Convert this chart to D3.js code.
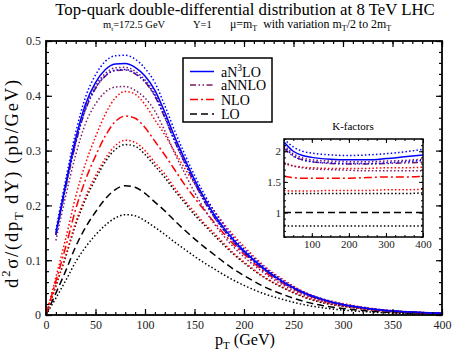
<!DOCTYPE html>
<html><head><meta charset="utf-8">
<script src="https://cdn.jsdelivr.net/npm/d3@7"></script>
<style>body{margin:0;background:#fff} text{font-family:"Liberation Serif","Times New Roman",serif}</style>
</head><body><svg id="c" width="452" height="351"></svg>
<script>
// ---- data ----
const pT = [0,10,20,30,40,50,60,70,80,90,100,110,120,130,140,150,160,170,180,190,200,220,240,260,280,300,325,350,375,400];
const N3LO    = [null,0.150,0.240,0.322,0.385,0.424,0.448,0.458,0.459,0.452,0.436,0.410,0.370,0.325,0.285,0.247,0.213,0.183,0.158,0.136,0.117,0.085,0.060,0.041,0.028,0.019,0.012,0.0075,0.0048,0.003];
const N3LO_up = [null,0.155,0.248,0.333,0.398,0.438,0.463,0.473,0.474,0.467,0.450,0.424,0.382,0.336,0.294,0.255,0.220,0.189,0.163,0.140,0.121,0.088,0.062,0.042,0.029,0.0196,0.0124,0.0077,0.005,0.0031];
const N3LO_lo = [null,0.146,0.234,0.314,0.376,0.414,0.437,0.447,0.448,0.441,0.426,0.400,0.361,0.317,0.278,0.241,0.208,0.179,0.154,0.133,0.114,0.083,0.059,0.040,0.027,0.0185,0.0117,0.0073,0.0047,0.0029];
const NNLO    = [null,0.146,0.234,0.313,0.375,0.413,0.436,0.446,0.447,0.440,0.425,0.399,0.360,0.317,0.278,0.241,0.207,0.178,0.154,0.132,0.114,0.083,0.058,0.040,0.027,0.0185,0.0117,0.0073,0.0047,0.0029];
const NNLO_up = [null,0.148,0.236,0.317,0.379,0.418,0.441,0.451,0.452,0.445,0.429,0.404,0.364,0.320,0.281,0.243,0.210,0.180,0.156,0.134,0.115,0.084,0.059,0.040,0.028,0.0187,0.0118,0.0074,0.0047,0.003];
const NNLO_lo = [null,0.136,0.218,0.292,0.350,0.385,0.407,0.416,0.417,0.410,0.396,0.372,0.336,0.295,0.259,0.224,0.193,0.166,0.143,0.123,0.106,0.077,0.054,0.037,0.025,0.017,0.011,0.0068,0.0044,0.0027];
const NLO     = [0,0.062,0.125,0.193,0.247,0.290,0.327,0.353,0.363,0.359,0.342,0.317,0.292,0.265,0.238,0.214,0.191,0.169,0.148,0.128,0.111,0.080,0.057,0.039,0.026,0.018,0.0115,0.007,0.0046,0.003];
const NLO_up  = [0,0.069,0.140,0.216,0.277,0.325,0.367,0.396,0.408,0.403,0.384,0.356,0.329,0.298,0.268,0.240,0.215,0.190,0.166,0.144,0.125,0.090,0.064,0.043,0.029,0.021,0.013,0.008,0.0052,0.0035];
const NLO_lo  = [0,0.054,0.109,0.169,0.216,0.254,0.286,0.309,0.319,0.315,0.300,0.278,0.257,0.232,0.209,0.188,0.167,0.149,0.130,0.112,0.097,0.070,0.050,0.034,0.023,0.016,0.010,0.006,0.004,0.0027];
const LO      = [0,0.040,0.081,0.125,0.160,0.188,0.212,0.229,0.236,0.233,0.222,0.206,0.190,0.172,0.155,0.139,0.124,0.110,0.096,0.083,0.072,0.052,0.037,0.025,0.017,0.012,0.0075,0.0045,0.003,0.002];
const LO_up   = [0,0.053,0.107,0.165,0.211,0.248,0.280,0.302,0.311,0.308,0.293,0.272,0.251,0.227,0.205,0.183,0.164,0.145,0.127,0.110,0.095,0.069,0.049,0.033,0.022,0.016,0.010,0.006,0.004,0.0026];
const LO_lo   = [0,0.031,0.063,0.097,0.124,0.146,0.164,0.177,0.183,0.181,0.172,0.160,0.147,0.133,0.120,0.107,0.095,0.084,0.073,0.063,0.054,0.039,0.028,0.019,0.013,0.009,0.0057,0.0035,0.0023,0.0015];

// K-factors (inset)
const kPT        = [25,50,75,100,150,200,250,300,350,400];
const K_N3LO     = [2.15,2.00,1.93,1.90,1.87,1.86,1.86,1.88,1.91,1.94];
const K_N3LO_up  = [2.20,2.07,2.00,1.97,1.94,1.93,1.94,1.96,1.99,2.03];
const K_N3LO_lo  = [2.08,1.93,1.86,1.83,1.81,1.80,1.80,1.81,1.83,1.85];
const K_NNLO     = [2.05,1.92,1.86,1.83,1.80,1.79,1.79,1.80,1.81,1.82];
const K_NNLO_up  = [2.10,1.96,1.89,1.86,1.84,1.83,1.83,1.84,1.85,1.87];
const K_NNLO_lo  = [1.82,1.76,1.73,1.71,1.70,1.69,1.68,1.68,1.68,1.68];
const K_NLO      = [1.59,1.57,1.56,1.56,1.56,1.56,1.57,1.58,1.58,1.59];
const K_NLO_up   = [1.80,1.76,1.74,1.73,1.72,1.72,1.72,1.73,1.73,1.74];
const K_NLO_lo   = [1.36,1.35,1.35,1.35,1.36,1.36,1.36,1.37,1.37,1.38];
const K_LO       = [1,1,1,1,1,1,1,1,1,1];
const K_LO_up    = [1.31,1.31,1.31,1.31,1.31,1.31,1.31,1.31,1.31,1.32];
const K_LO_lo    = [0.78,0.78,0.78,0.78,0.78,0.78,0.78,0.78,0.78,0.78];

const xTicks = [0,50,100,150,200,250,300,350,400];
const yTicks = [0,0.1,0.2,0.3,0.4,0.5];
const kxTicks = [100,200,300,400];
const kyTicks = [1,1.5,2];
const legendLabels = ["aN3LO","aNNLO","NLO","LO"];
const titleText = "Top-quark double-differential distribution at 8 TeV LHC";

// ---- styles ----
const FONT = "'Liberation Serif','Times New Roman',serif";
const C = {blue:"#0000ff", purple:"#7a1a66", red:"#ff0000", black:"#000000"};
const D = {solid:null, dot:"1.5,2.2", dash:"7,4", dashdot:"8,3,2,3", dashdotdot:"6,2.5,1.5,2.5,1.5,2.5"};

const svg = d3.select("#c");
const W = {l:46, r:442, t:41, b:315};
const x = d3.scaleLinear().domain([0,400]).range([W.l,W.r]);
const y = d3.scaleLinear().domain([0,0.5]).range([W.b,W.t]);

svg.append("defs").append("clipPath").attr("id","clipMain")
  .append("rect").attr("x",W.l).attr("y",W.t).attr("width",W.r-W.l).attr("height",W.b-W.t);

const mainSeries = [
  {v:LO_lo, c:C.black, d:D.dot}, {v:LO_up, c:C.black, d:D.dot}, {v:LO, c:C.black, d:D.dash},
  {v:NLO_lo, c:C.red, d:D.dot}, {v:NLO_up, c:C.red, d:D.dot}, {v:NLO, c:C.red, d:D.dashdot},
  {v:NNLO_lo, c:C.purple, d:D.dot}, {v:NNLO_up, c:C.purple, d:D.dot}, {v:NNLO, c:C.purple, d:D.dashdotdot},
  {v:N3LO_lo, c:C.blue, d:D.dot}, {v:N3LO_up, c:C.blue, d:D.dot}, {v:N3LO, c:C.blue, d:D.solid}
];
const line = d3.line().defined(d=>d[1]!=null).x(d=>x(d[0])).y(d=>y(d[1])).curve(d3.curveMonotoneX);
const gm = svg.append("g").attr("clip-path","url(#clipMain)");
mainSeries.forEach(s=>{
  gm.append("path").datum(pT.map((p,i)=>[p,s.v[i]])).attr("d",line)
    .attr("fill","none").attr("stroke",s.c).attr("stroke-width",1.5)
    .attr("stroke-dasharray",s.d);
});

// main axes (inward ticks on all sides)
const tickCol = "#222";
function styleAxis(g){ g.attr("font-family",FONT); g.select(".domain").remove(); g.selectAll("line").attr("stroke","#000").attr("stroke-width",1.2);
  g.selectAll("text").attr("fill",tickCol).attr("font-family",FONT).style("font-family",FONT); }
const xMinor = d3.range(0,401,10), yMinor = d3.range(0,0.5001,0.02);
svg.append("g").attr("transform",`translate(0,${W.b})`).call(d3.axisBottom(x).tickValues(xMinor).tickSize(-3).tickFormat("")).call(styleAxis);
svg.append("g").attr("transform",`translate(0,${W.b})`).call(d3.axisBottom(x).tickValues(xTicks).tickSize(-6).tickPadding(5).tickFormat(d3.format("d"))).call(styleAxis).selectAll("text").attr("font-size",12);
svg.append("g").attr("transform",`translate(0,${W.t})`).call(d3.axisTop(x).tickValues(xMinor).tickSize(-3).tickFormat("")).call(styleAxis);
svg.append("g").attr("transform",`translate(0,${W.t})`).call(d3.axisTop(x).tickValues(xTicks).tickSize(-6).tickFormat("")).call(styleAxis);
svg.append("g").attr("transform",`translate(${W.l},0)`).call(d3.axisLeft(y).tickValues(yMinor).tickSize(-3).tickFormat("")).call(styleAxis);
svg.append("g").attr("transform",`translate(${W.l},0)`).call(d3.axisLeft(y).tickValues(yTicks).tickSize(-6).tickPadding(5).tickFormat(d=>d===0?"0":d3.format(".1f")(d))).call(styleAxis).selectAll("text").attr("font-size",12);
svg.append("g").attr("transform",`translate(${W.r},0)`).call(d3.axisRight(y).tickValues(yMinor).tickSize(-3).tickFormat("")).call(styleAxis);
svg.append("g").attr("transform",`translate(${W.r},0)`).call(d3.axisRight(y).tickValues(yTicks).tickSize(-6).tickFormat("")).call(styleAxis);
svg.append("rect").attr("x",W.l).attr("y",W.t).attr("width",W.r-W.l).attr("height",W.b-W.t)
  .attr("fill","none").attr("stroke","#000").attr("stroke-width",1.8);

// ---- rich text helper ----
function rich(parent, parts, size, attrs){
  const t = parent.append("text").attr("font-family",FONT).style("font-family",FONT);
  Object.entries(attrs||{}).forEach(([k,v])=>t.attr(k,v));
  function build(sz){
    t.selectAll("tspan").remove();
    t.attr("font-size",sz);
    let shift = 0;
    parts.forEach(p=>{
      const ts = t.append("tspan").text(p.t);
      let target = 0;
      if(p.sup){ ts.attr("font-size",sz*0.68); target = -sz*0.42; }
      else if(p.sub){ ts.attr("font-size",sz*0.68); target = sz*0.28; }
      ts.attr("dy", target - shift); shift = target;
    });
  }
  build(size);
  t.fitTo = function(width){ const w = t.node().getBBox().width; if(w>0) build(size*width/w); return t; };
  t.spreadTo = function(width){
    const w = t.node().getBBox().width;
    const n = parts.reduce((a,p)=>a+p.t.length,0);
    if(w>0 && n>1 && width>w) t.attr("letter-spacing", ((width-w)/(n-1)).toFixed(2));
    return t;
  };
  return t;
}

// title
rich(svg,[{t:titleText}],17,{x:245,y:14.5,"text-anchor":"middle"}).fitTo(380);

// subtitle
rich(svg,[{t:"m"},{t:"t",sub:true},{t:"=172.5 GeV"}],10.5,{x:103,y:28});
rich(svg,[{t:"Y=1"}],10.5,{x:193,y:28});
rich(svg,[{t:"\u03bc=m"},{t:"T",sub:true},{t:"\u00a0 with variation m"},{t:"T",sub:true},{t:"/2 to 2m"},{t:"T",sub:true}],10.5,{x:230,y:28}).fitTo(162);

// axis titles
rich(svg,[{t:"p"},{t:"T",sub:true},{t:" (GeV)"}],17,{x:245,y:344.5,"text-anchor":"middle"}).fitTo(60);
rich(svg,[{t:"d"},{t:"2",sup:true},{t:"\u03c3/(dp"},{t:"T",sub:true},{t:"\u00a0dY)\u00a0(pb/GeV)"}],18.5,{"text-anchor":"middle",transform:"translate(18,183) rotate(-90)"}).spreadTo(208);

// legend
const lg = svg.append("g");
lg.append("rect").attr("x",183).attr("y",58).attr("width",89).attr("height",64).attr("fill","#fff").attr("stroke","#000").attr("stroke-width",1.5);
const legStyle = [{c:C.blue,d:D.solid},{c:C.purple,d:D.dashdotdot},{c:C.red,d:D.dashdot},{c:C.black,d:D.dash}];
const legY = [71.5,85,99.5,114];
legendLabels.forEach((lab,i)=>{
  lg.append("line").attr("x1",190).attr("x2",214).attr("y1",legY[i]).attr("y2",legY[i])
    .attr("stroke",legStyle[i].c).attr("stroke-width",1.5).attr("stroke-dasharray",legStyle[i].d);
  const parts = lab==="aN3LO" ? [{t:"aN"},{t:"3",sup:true},{t:"LO"}] : [{t:lab}];
  rich(lg, parts, 14, {x:221, y:legY[i]+5});
});

// ---- inset ----
const I = {l:284, r:423, t:139, b:237};
const kx = d3.scaleLinear().domain([25,400]).range([I.l,I.r]);
const ky = d3.scaleLinear().domain([0.6,2.2]).range([I.b,I.t]);
svg.append("rect").attr("x",I.l).attr("y",I.t).attr("width",I.r-I.l).attr("height",I.b-I.t).attr("fill","#fff");
svg.append("defs").append("clipPath").attr("id","clipK")
  .append("rect").attr("x",I.l).attr("y",I.t).attr("width",I.r-I.l).attr("height",I.b-I.t);
const kSeries = [
  {v:K_LO_lo,c:C.black,d:D.dot},{v:K_LO_up,c:C.black,d:D.dot},{v:K_LO,c:C.black,d:D.dash},
  {v:K_NLO_lo,c:C.red,d:D.dot},{v:K_NLO_up,c:C.red,d:D.dot},{v:K_NLO,c:C.red,d:D.dashdot},
  {v:K_NNLO_lo,c:C.purple,d:D.dot},{v:K_NNLO_up,c:C.purple,d:D.dot},{v:K_NNLO,c:C.purple,d:D.dashdotdot},
  {v:K_N3LO_lo,c:C.blue,d:D.dot},{v:K_N3LO_up,c:C.blue,d:D.dot},{v:K_N3LO,c:C.blue,d:D.solid}
];
const kline = d3.line().x(d=>kx(d[0])).y(d=>ky(d[1])).curve(d3.curveMonotoneX);
const gk = svg.append("g").attr("clip-path","url(#clipK)");
kSeries.forEach(s=>{
  gk.append("path").datum(kPT.map((p,i)=>[p,s.v[i]])).attr("d",kline)
    .attr("fill","none").attr("stroke",s.c).attr("stroke-width",1.5).attr("stroke-dasharray",s.d);
});
const kxMinor = d3.range(25,401,25), kyMinor = d3.range(0.6,2.2001,0.1);
function styleK(g){ styleAxis(g); g.selectAll("line").attr("stroke-width",1); }
svg.append("g").attr("transform",`translate(0,${I.b})`).call(d3.axisBottom(kx).tickValues(kxMinor).tickSize(-2).tickFormat("")).call(styleK);
svg.append("g").attr("transform",`translate(0,${I.b})`).call(d3.axisBottom(kx).tickValues(kxTicks).tickSize(-4).tickPadding(3).tickFormat(d3.format("d"))).call(styleK).selectAll("text").attr("font-size",11);
svg.append("g").attr("transform",`translate(0,${I.t})`).call(d3.axisTop(kx).tickValues(kxMinor).tickSize(-2).tickFormat("")).call(styleK);
svg.append("g").attr("transform",`translate(0,${I.t})`).call(d3.axisTop(kx).tickValues(kxTicks).tickSize(-4).tickFormat("")).call(styleK);
svg.append("g").attr("transform",`translate(${I.l},0)`).call(d3.axisLeft(ky).tickValues(kyMinor).tickSize(-2).tickFormat("")).call(styleK);
svg.append("g").attr("transform",`translate(${I.l},0)`).call(d3.axisLeft(ky).tickValues(kyTicks).tickSize(-4).tickPadding(3).tickFormat(d3.format("~g"))).call(styleK).selectAll("text").attr("font-size",11);
svg.append("g").attr("transform",`translate(${I.r},0)`).call(d3.axisRight(ky).tickValues(kyMinor).tickSize(-2).tickFormat("")).call(styleK);
svg.append("g").attr("transform",`translate(${I.r},0)`).call(d3.axisRight(ky).tickValues(kyTicks).tickSize(-4).tickFormat("")).call(styleK);
svg.append("rect").attr("x",I.l).attr("y",I.t).attr("width",I.r-I.l).attr("height",I.b-I.t)
  .attr("fill","none").attr("stroke","#000").attr("stroke-width",1.5);
rich(svg,[{t:"K-factors"}],11,{x:353,y:130,"text-anchor":"middle"});
</script></body></html>
